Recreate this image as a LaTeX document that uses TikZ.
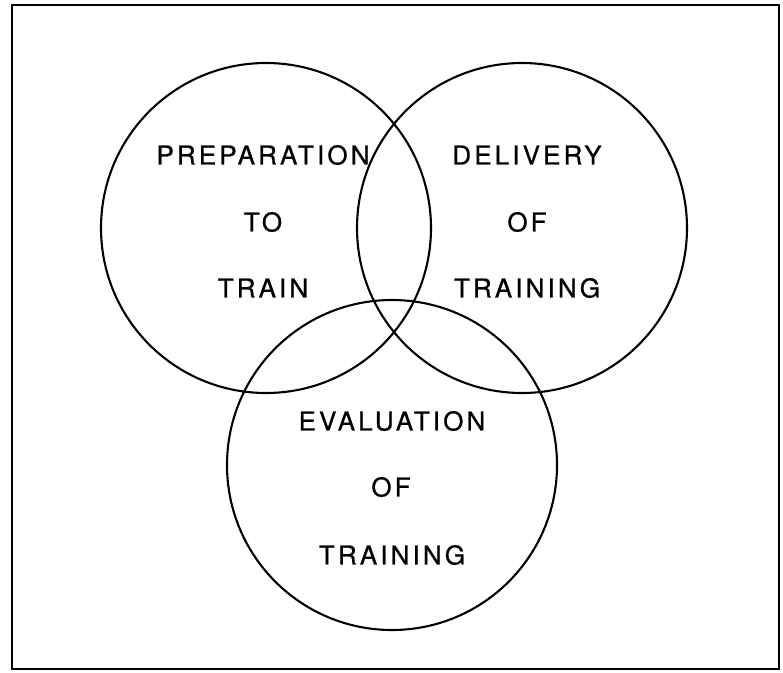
\documentclass[tikz,border=0pt]{standalone}
\usepackage{fontspec}
\setmainfont{TeX Gyre Heros}
\newfontfamily\lblfont[LetterSpace=12,FakeBold=0.8]{TeX Gyre Heros}
\begin{document}
\begin{tikzpicture}[x=1pt,y=-1pt,
  ring/.style={draw, circle, minimum size=330pt, inner sep=0pt, line width=2.1pt},
  lbl/.style={font={\lblfont\fontsize{26}{30}\selectfont}, inner sep=0pt, anchor=center},
  frame/.style={draw, line width=2.4pt}]
\useasboundingbox (0,0) rectangle (783,672);
\draw[frame] (12,5) rectangle (779,669);
\node[ring] (prep) at (266,228) {};
\node[ring] (deliv) at (522,228) {};
\node[ring] (eval) at (392,465) {};
\node[lbl] (p1) at (263,155) {PREPARATION};
\node[lbl] (p2) at (263,222) {TO};
\node[lbl] (p3) at (263,288) {TRAIN};
\node[lbl] (d1) at (527,155) {DELIVERY};
\node[lbl] (d2) at (527,222) {OF};
\node[lbl] (d3) at (527,288) {TRAINING};
\node[lbl] (e1) at (392,421) {EVALUATION};
\node[lbl] (e2) at (391,487) {OF};
\node[lbl] (e3) at (392,555) {TRAINING};
\end{tikzpicture}
\end{document}
